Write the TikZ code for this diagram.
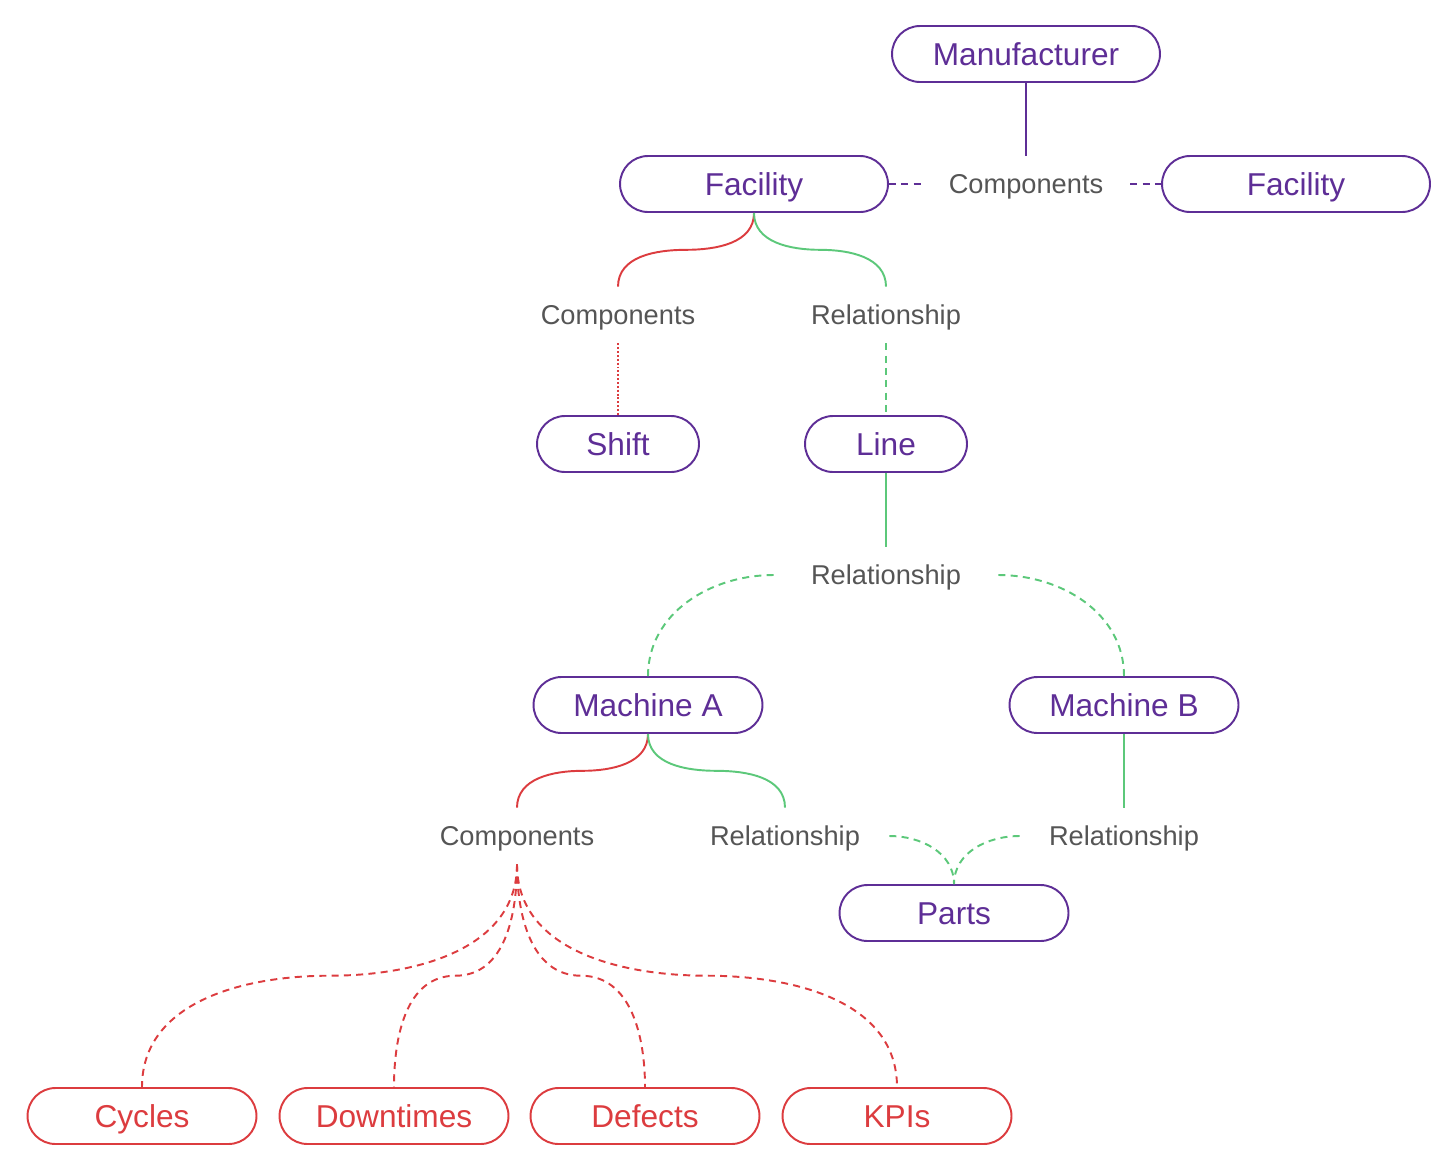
\documentclass[tikz,border=0pt]{standalone}
\usepackage{fontspec}
\setmainfont{Liberation Sans}
\usetikzlibrary{calc}
\definecolor{plum}{HTML}{5E2E96}
\definecolor{brick}{HTML}{DC3C3F}
\definecolor{leaf}{HTML}{5CC87A}
\definecolor{slate}{HTML}{555555}
\begin{document}
\begin{tikzpicture}[x=0.02cm,y=-0.02cm,
  pill/.style={draw=plum,text=plum,line width=1.1pt,rounded corners=0.56cm,
    minimum height=1.12cm,inner sep=0pt,text height=12.9pt,text depth=0pt,
    font=\fontsize{18}{20}\selectfont},
  redpill/.style={pill,draw=brick,text=brick,minimum width=4.58cm},
  tag/.style={text=slate,minimum height=1.12cm,minimum width=4.16cm,inner sep=0pt,
    text height=11.1pt,text depth=0pt,font=\fontsize{15.5}{18}\selectfont},
  link/.style={line width=1.1pt},
  dashline/.style={dash pattern=on 4pt off 3pt},
  dotline/.style={dash pattern=on 1.1pt off 1.1pt}]
\useasboundingbox (0,0) rectangle (1456,1170);
\node[pill,minimum width=5.36cm] (maker) at (1026,54) {Manufacturer};
\node[pill,minimum width=5.36cm] (fac) at (754,184) {Facility};
\node[tag] (facparts) at (1026,184) {Components};
\node[pill,minimum width=5.36cm] (fac2) at (1296,184) {Facility};
\node[tag] (shiftparts) at (618,315) {Components};
\node[tag] (facrel) at (886,315) {Relationship};
\node[pill,minimum width=3.24cm] (shift) at (618,444) {Shift};
\node[pill,minimum width=3.24cm] (line) at (886,444) {Line};
\node[tag,minimum width=4.48cm] (linerel) at (886,575) {Relationship};
\node[pill,minimum width=4.58cm] (macha) at (648,705) {Machine A};
\node[pill,minimum width=4.58cm] (machb) at (1124,705) {Machine B};
\node[tag] (aparts) at (517,836) {Components};
\node[tag] (arel) at (785,836) {Relationship};
\node[tag] (brel) at (1124,836) {Relationship};
\node[pill,minimum width=4.58cm] (parts) at (954,913) {Parts};
\node[redpill] (cycles) at (142,1116) {Cycles};
\node[redpill] (downtimes) at (394,1116) {Downtimes};
\node[redpill] (defects) at (645,1116) {Defects};
\node[redpill] (kpis) at (897,1116) {KPIs};
\draw[link,plum] (maker) -- (facparts);
\draw[link,plum,dashline] (fac) -- (facparts);
\draw[link,plum,dashline] (facparts) -- (fac2);
\draw[link,brick] (fac.south) to[out=-90,in=0] ($(fac.south)!.5!(shiftparts.north)$)
  to[out=180,in=90] (shiftparts.north);
\draw[link,leaf] (fac.south) to[out=-90,in=180] ($(fac.south)!.5!(facrel.north)$)
  to[out=0,in=90] (facrel.north);
\draw[link,brick,dotline] (shiftparts) -- (shift);
\draw[link,leaf,dashline] (facrel) -- (line);
\draw[link,leaf] (line) -- (linerel);
\draw[link,leaf,dashline] (linerel.west) to[out=180,in=90] (macha.north);
\draw[link,leaf,dashline] (linerel.east) to[out=0,in=90] (machb.north);
\draw[link,brick] (macha.south) to[out=-90,in=0] ($(macha.south)!.5!(aparts.north)$)
  to[out=180,in=90] (aparts.north);
\draw[link,leaf] (macha.south) to[out=-90,in=180] ($(macha.south)!.5!(arel.north)$)
  to[out=0,in=90] (arel.north);
\draw[link,leaf] (machb) -- (brel);
\draw[link,leaf,dashline] (arel.east) to[out=0,in=90] (parts.north);
\draw[link,leaf,dashline] (brel.west) to[out=180,in=90] (parts.north);
\foreach \n/\a/\b in {cycles/0/180,downtimes/0/180,defects/180/0,kpis/180/0}
  \draw[link,brick,dashline] (aparts.south) to[out=-90,in=\a] ($(aparts.south)!.5!(\n.north)$)
    to[out=\b,in=90] (\n.north);
\end{tikzpicture}
\end{document}
